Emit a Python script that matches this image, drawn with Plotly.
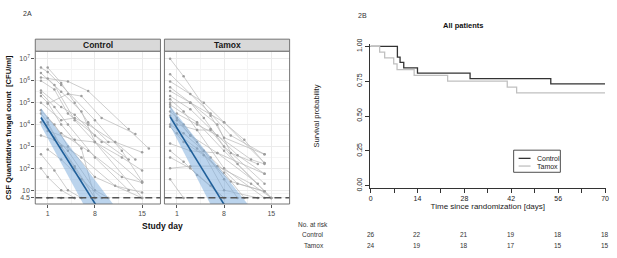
import plotly.graph_objects as go

W, H = 617, 258
def px(x): return x / W
def py(y): return 1 - y / H

FONT = "Liberation Sans, Arial, sans-serif"

# ---------------- Data: Figure 2A (log10 CFU/ml by study day) ----------------
control_days = [
    [0, 1, 3, 8, 12, 15], [1, 3, 5, 7, 10], [0, 3, 6, 8, 15], [0, 4, 7, 13, 16],
    [1, 2, 5, 8, 15], [0, 3, 5, 9, 11, 14], [0, 2, 4, 8, 13], [0, 1, 3, 6, 8],
    [0, 3, 5, 7, 11, 15], [1, 4, 6, 9, 14], [0, 2, 4, 8, 15], [0, 1, 3, 5, 8],
    [1, 3, 7, 12, 15], [0, 2, 4, 8, 10], [1, 3, 5, 8], [0, 2, 6, 11, 15],
    [1, 3, 6, 9], [0, 2, 4, 6], [0, 1, 3, 5], [1, 3, 5],
    [1, 5, 8, 12, 15], [0, 2, 4, 8, 13],
]
control_log10 = [
    [6.6, 6.4, 5.8, 4.2, 2.8, 1.4], [6.6, 5.9, 5.0, 4.1, 3.2], [6.35, 5.5, 4.6, 3.2, 0.65],
    [6.15, 5.97, 5.53, 3.8, 2.9], [6.1, 5.8, 4.2, 3.2, 1.35], [5.55, 4.8, 4.45, 3.2, 3.2, 2.4],
    [5.45, 4.8, 4.0, 2.5, 1.0], [5.3, 5.0, 4.0, 2.9, 0.65], [5.0, 4.2, 4.3, 4.0, 3.2, 2.73],
    [4.95, 5.4, 5.3, 4.3, 3.57], [4.65, 4.0, 3.0, 1.6, 0.65], [4.5, 4.1, 3.0, 2.1, 0.65],
    [4.3, 3.6, 2.8, 1.6, 1.35], [4.1, 3.4, 2.8, 1.0, 0.65], [4.0, 3.0, 2.0, 0.65],
    [3.5, 3.3, 2.5, 1.2, 0.9], [2.86, 2.4, 1.5, 0.65], [2.64, 1.9, 1.0, 0.65],
    [2.0, 1.6, 1.0, 0.65], [0.65, 0.65, 0.65], [3.7, 3.3, 3.2, 2.5, 1.9],
    [6.0, 5.6, 4.5, 3.5, 2.4],
]
tamox_days = [
    [0, 2, 6, 8, 14], [0, 5, 8, 14], [0, 3, 7, 9, 13], [0, 3, 6, 10, 14],
    [0, 2, 4, 8, 14], [0, 3, 8, 11, 14], [0, 1, 3, 6, 10, 14], [0, 2, 4, 8, 13],
    [0, 1, 4, 6, 10, 15], [1, 3, 7, 13], [0, 2, 5, 9, 14], [0, 3, 7, 14],
    [0, 2, 4, 8], [0, 3, 6, 8], [0, 3, 7, 12, 15], [1, 4, 7, 12, 14],
    [0, 2, 5, 8, 10], [1, 4, 8, 11], [0, 2], [0, 3, 6, 9, 14],
    [0, 3, 5, 8, 14], [0, 4, 8, 15],
]
tamox_log10 = [
    [7.0, 6.2, 4.4, 3.4, 2.64], [5.97, 5.0, 4.1, 2.24], [5.53, 5.0, 4.0, 2.7, 2.2],
    [5.3, 4.7, 3.8, 2.6, 1.75], [5.15, 4.6, 3.75, 2.0, 0.65], [5.0, 5.0, 4.1, 3.3, 2.24],
    [4.8, 4.3, 3.5, 2.5, 1.3, 0.95], [4.6, 4.0, 3.2, 1.0, 0.65], [4.4, 4.0, 3.75, 3.75, 2.2, 0.65],
    [4.2, 3.5, 2.7, 1.3], [3.9, 3.2, 2.6, 1.4, 0.95], [3.13, 2.8, 2.7, 1.75],
    [2.8, 2.3, 1.7, 0.65], [2.5, 2.0, 1.2, 0.65], [2.0, 2.1, 2.1, 1.3, 0.65],
    [4.5, 4.0, 3.5, 2.4, 2.2], [4.0, 3.6, 2.8, 1.5, 0.65], [3.6, 2.9, 1.8, 0.65],
    [1.5, 0.65], [6.3, 5.4, 4.5, 3.5, 2.64], [5.7, 5.0, 4.3, 3.0, 1.3],
    [4.9, 4.1, 2.8, 0.65],
]
detection_limit = 4.5

fit_days = [0, 12]
control_fit_log10 = [4.32, -1.56]
tamox_fit_log10 = [4.35, -1.65]
band_days = [0, 2, 4, 6, 8, 10, 12]
control_band_upper = [4.75, 3.93, 3.11, 2.29, 1.47, 0.65, -0.17]
control_band_lower = [3.95, 2.81, 1.67, 0.53, -0.61, -1.75, -2.89]
tamox_band_upper = [4.85, 4.07, 3.29, 2.51, 1.73, 0.95, 0.17]
tamox_band_lower = [3.95, 2.75, 1.55, 0.35, -0.85, -2.05, -3.25]

y_tickvals = [4.5, 10, 1e2, 1e3, 1e4, 1e5, 1e6, 1e7]
y_ticktext = ["4.5", "10", "10<sup>2</sup>", "10<sup>3</sup>", "10<sup>4</sup>",
              "10<sup>5</sup>", "10<sup>6</sup>", "10<sup>7</sup>"]
x_tickvals = [1, 8, 15]

# ---------------- Data: Figure 2B (Kaplan-Meier) ----------------
km_control_time = [0, 8, 8.8, 9.9, 14, 29.7, 53.8, 70]
km_control_surv = [1.0, 0.923, 0.885, 0.846, 0.808, 0.769, 0.731, 0.731]
km_tamox_time = [0, 2.7, 4.2, 6.9, 7.9, 13, 23, 40.8, 43.6, 70]
km_tamox_surv = [1.0, 0.958, 0.917, 0.875, 0.833, 0.792, 0.75, 0.708, 0.667, 0.667]
km_major_ticks = [0, 14, 28, 42, 56, 70]
km_minor_ticks = [7, 21, 35, 49, 63]
risk_times = [0, 14, 28, 42, 56, 70]
risk_control = [26, 22, 21, 19, 18, 18]
risk_tamox = [24, 19, 18, 17, 15, 15]

fig = go.Figure()

def spaghetti(days, logs, xa, ya):
    xs, ys = [], []
    for d, l in zip(days, logs):
        xs += d + [None]
        ys += [10 ** v for v in l] + [None]
    fig.add_trace(go.Scatter(x=xs, y=ys, mode="lines+markers", xaxis=xa, yaxis=ya,
                             line=dict(color="#b8b8b8", width=0.7),
                             marker=dict(size=2.5, color="#9e9e9e"),
                             showlegend=False, hoverinfo="skip"))

def band(upper, lower, fit, xa, ya):
    xs = band_days + band_days[::-1]
    ys = [10 ** v for v in upper] + [10 ** v for v in lower[::-1]]
    fig.add_trace(go.Scatter(x=xs, y=ys, fill="toself", mode="lines", xaxis=xa, yaxis=ya,
                             fillcolor="rgba(120,170,220,0.5)", line=dict(width=0),
                             showlegend=False, hoverinfo="skip"))
    fig.add_trace(go.Scatter(x=fit_days, y=[10 ** v for v in fit], mode="lines",
                             xaxis=xa, yaxis=ya, line=dict(color="#1f5f99", width=1.6),
                             showlegend=False, hoverinfo="skip"))
    fig.add_trace(go.Scatter(x=[-0.84, 17.72], y=[detection_limit, detection_limit],
                             mode="lines", xaxis=xa, yaxis=ya,
                             line=dict(color="#555555", width=1.4, dash="7px,4px"),
                             showlegend=False, hoverinfo="skip"))

spaghetti(control_days, control_log10, "x", "y")
band(control_band_upper, control_band_lower, control_fit_log10, "x", "y")
spaghetti(tamox_days, tamox_log10, "x2", "y2")
band(tamox_band_upper, tamox_band_lower, tamox_fit_log10, "x2", "y2")

# KM curves (Tamox drawn last)
fig.add_trace(go.Scatter(x=km_control_time, y=km_control_surv, mode="lines", line_shape="hv",
                         xaxis="x3", yaxis="y3", line=dict(color="#333333", width=1.3),
                         showlegend=False, hoverinfo="skip"))
fig.add_trace(go.Scatter(x=km_tamox_time, y=km_tamox_surv, mode="lines", line_shape="hv",
                         xaxis="x3", yaxis="y3", line=dict(color="#c0c0c0", width=1.3),
                         showlegend=False, hoverinfo="skip"))

tickfont = dict(family=FONT, size=7, color="#4d4d4d")
ydomain = [py(206), py(47)]
common_x = dict(range=[-0.84, 17.72], tickvals=x_tickvals, ticks="outside", ticklen=3,
                tickcolor="#555", tickfont=tickfont, showgrid=True, gridcolor="#ebebeb",
                gridwidth=0.6, zeroline=False, showline=False,
                minor=dict(tickvals=[4.5, 11.5], showgrid=True, gridcolor="#f4f4f4", gridwidth=0.5))
minor_y = [10 ** 0.83, 10 ** 1.5, 10 ** 2.5, 10 ** 3.5, 10 ** 4.5, 10 ** 5.5, 10 ** 6.5]
common_y = dict(type="log", range=[0.37, 7.35], domain=ydomain, tickvals=y_tickvals,
                ticktext=y_ticktext, ticklen=3, tickcolor="#555",
                tickfont=tickfont, showgrid=True, gridcolor="#ebebeb", gridwidth=0.6,
                zeroline=False, showline=False,
                minor=dict(tickvals=minor_y, showgrid=True, gridcolor="#f4f4f4", gridwidth=0.5))

fig.update_layout(
    width=W, height=H, margin=dict(l=0, r=0, t=0, b=0),
    paper_bgcolor="white", plot_bgcolor="white",
    font=dict(family=FONT, color="#222"),
    xaxis=dict(domain=[px(34.5), px(160.5)], anchor="y", **common_x),
    yaxis=dict(anchor="x", ticks="outside", **common_y),
    xaxis2=dict(domain=[px(164.5), px(290.5)], anchor="y2", **common_x),
    yaxis2=dict(anchor="x2", showticklabels=False, ticks="", **common_y),
    xaxis3=dict(domain=[px(371), px(609)], range=[-0.3, 70.3], anchor="y3",
                tickvals=km_major_ticks, ticks="outside", ticklen=4, tickcolor="#333",
                minor=dict(tickvals=km_minor_ticks, ticks="outside", ticklen=4,
                           tickcolor="#333", showgrid=False),
                showline=True, linecolor="#333", linewidth=0.8, showgrid=False,
                zeroline=False, tickfont=dict(family=FONT, size=7, color="#222"),
                title=dict(text="Time since randomization [days]", standoff=2,
                           font=dict(family=FONT, size=8, color="#222"))),
    yaxis3=dict(domain=[py(189.2), py(39.8)], range=[-0.015, 1.015], anchor="x3",
                tickvals=[0, 0.25, 0.5, 0.75, 1.0],
                ticktext=["0.00", "0.25", "0.50", "0.75", "1.00"], tickangle=-90,
                ticks="outside", ticklen=4, tickcolor="#333", showline=True,
                linecolor="#333", linewidth=0.8, showgrid=False, zeroline=False,
                tickfont=dict(family=FONT, size=7, color="#222")),
)

shapes = []
annotations = []
for (x0, x1, label) in [(34.5, 160.5, "Control"), (164.5, 290.5, "Tamox")]:
    shapes.append(dict(type="rect", xref="paper", yref="paper", x0=px(x0), x1=px(x1),
                       y0=py(206), y1=py(47), line=dict(color="#666", width=0.9),
                       fillcolor="rgba(0,0,0,0)", layer="above"))
    shapes.append(dict(type="rect", xref="paper", yref="paper", x0=px(x0), x1=px(x1),
                       y0=py(47), y1=py(34.5), line=dict(color="#666", width=0.9),
                       fillcolor="#d9d9d9"))
    annotations.append(dict(text=f"<b>{label}</b>", xref="paper", yref="paper",
                            x=px((x0 + x1) / 2), y=py(40.8), showarrow=False,
                            font=dict(family=FONT, size=8.5, color="#1a1a1a"),
                            xanchor="center", yanchor="middle"))

annotations += [
    dict(text="2A", x=px(20), y=py(8), xanchor="left", yanchor="middle",
         font=dict(family=FONT, size=7, color="#333")),
    dict(text="2B", x=px(357), y=py(10), xanchor="left", yanchor="middle",
         font=dict(family=FONT, size=7, color="#333")),
    dict(text="<b>CSF Quantitative fungal count  [CFU/ml]</b>", x=px(7.5), y=py(126.5),
         textangle=-90, xanchor="center", yanchor="middle",
         font=dict(family=FONT, size=7.6, color="#111")),
    dict(text="<b>Study day</b>", x=px(163), y=py(229), xanchor="center", yanchor="middle",
         font=dict(family=FONT, size=8.5, color="#111")),
    dict(text="<b>All patients</b>", x=px(465), y=py(20), xanchor="center", yanchor="middle",
         font=dict(family=FONT, size=7.5, color="#111")),
    dict(text="Survival probability", x=px(318), y=py(114), textangle=-90,
         xanchor="center", yanchor="middle", font=dict(family=FONT, size=7.5, color="#222")),
    dict(text="No. at risk", x=px(297), y=py(227), xanchor="left", yanchor="middle",
         font=dict(family=FONT, size=6.5, color="#333")),
    dict(text="Control", x=px(327), y=py(238), xanchor="right", yanchor="middle",
         font=dict(family=FONT, size=6.5, color="#333")),
    dict(text="Tamox", x=px(327), y=py(249), xanchor="right", yanchor="middle",
         font=dict(family=FONT, size=6.5, color="#333")),
]
for t, c, tm in zip(risk_times, risk_control, risk_tamox):
    annotations.append(dict(text=str(c), x=t, xref="x3", y=py(238), yref="paper",
                            xanchor="center", yanchor="middle", showarrow=False,
                            font=dict(family=FONT, size=6.5, color="#333")))
    annotations.append(dict(text=str(tm), x=t, xref="x3", y=py(249), yref="paper",
                            xanchor="center", yanchor="middle", showarrow=False,
                            font=dict(family=FONT, size=6.5, color="#333")))

# KM legend box
shapes.append(dict(type="rect", xref="paper", yref="paper", x0=px(516), x1=px(563),
                   y0=py(173), y1=py(150), line=dict(color="#222", width=0.8),
                   fillcolor="white"))
for yy, col, lab in [(158.5, "#333333", "Control"), (166.5, "#c0c0c0", "Tamox")]:
    shapes.append(dict(type="line", xref="paper", yref="paper", x0=px(521), x1=px(533),
                       y0=py(yy), y1=py(yy), line=dict(color=col, width=1.3)))
    annotations.append(dict(text=lab, x=px(537), y=py(yy), xanchor="left", yanchor="middle",
                            font=dict(family=FONT, size=7, color="#222")))

for a in annotations:
    a.setdefault("xref", "paper")
    a.setdefault("yref", "paper")
    a.setdefault("showarrow", False)

fig.update_layout(shapes=shapes, annotations=annotations)
fig.write_html("out.html", config={"displayModeBar": False},
               post_script="document.body.style.margin='0';"
                           "document.body.style.padding='0';"
                           "document.body.style.overflow='hidden';")
